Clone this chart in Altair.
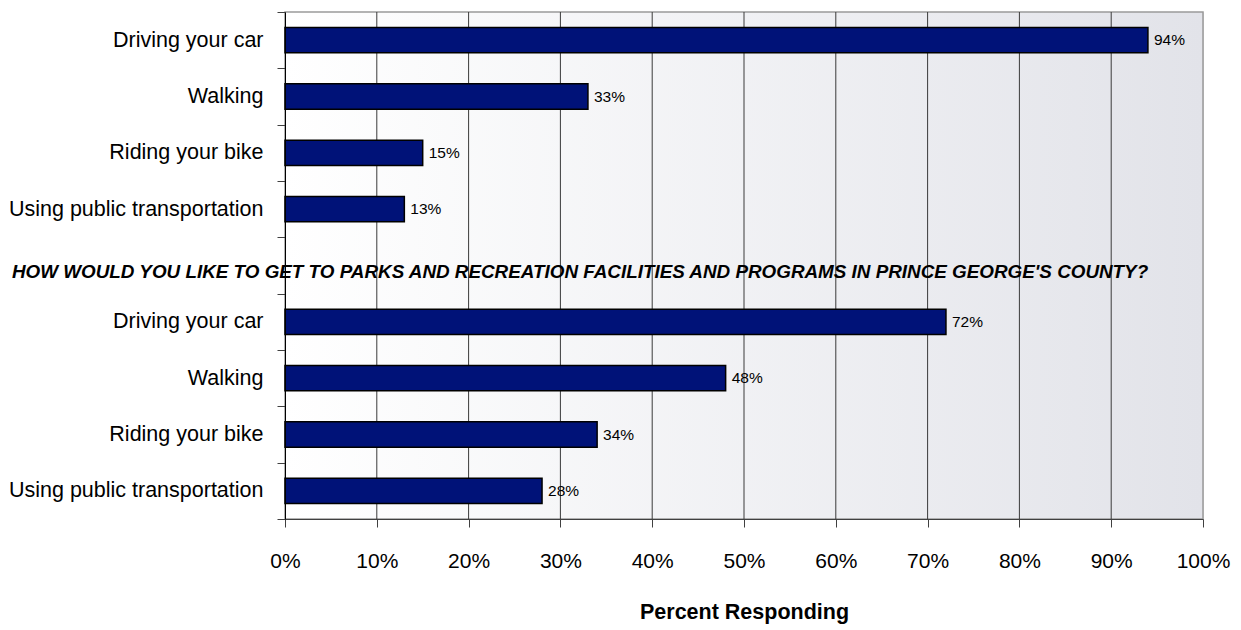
import altair as alt
import pandas as pd

# ---- data ----
categories = ["Driving your car", "Walking", "Riding your bike", "Using public transportation"]
current_pct = [94, 33, 15, 13]
desired_pct = [72, 48, 34, 28]
question = ("HOW WOULD YOU LIKE TO GET TO PARKS AND RECREATION FACILITIES "
            "AND PROGRAMS IN PRINCE GEORGE'S COUNTY?")
x_ticks = [0, 10, 20, 30, 40, 50, 60, 70, 80, 90, 100]
axis_title = "Percent Responding"

FONT = "Liberation Sans"
W, H = 918, 507

rows = []
order = []
for i, (c, v) in enumerate(zip(categories, current_pct)):
    k = f"{i}|{c}"
    rows.append({"key": k, "value": v, "label": f"{v}%"})
    order.append(k)
title_key = "4|"
order.append(title_key)
for i, (c, v) in enumerate(zip(categories, desired_pct)):
    k = f"{5 + i}|{c}"
    rows.append({"key": k, "value": v, "label": f"{v}%"})
    order.append(k)
df = pd.DataFrame(rows)

xscale = alt.Scale(domain=[0, 100], nice=False, zero=True)
yscale = alt.Scale(domain=order, paddingInner=0, paddingOuter=0)

x_axis = alt.Axis(values=x_ticks, labelExpr="datum.value + '%'", grid=False,
                  tickSize=8, tickColor="#404040", domainColor="#404040",
                  labelFont=FONT, labelFontSize=21, labelColor="black",
                  labelPadding=23, title=axis_title, titleFont=FONT,
                  titleFontSize=21.5, titleFontWeight="bold", titleColor="black",
                  titlePadding=30, zindex=1, labelFlush=False)
y_axis = alt.Axis(labelExpr="split(datum.label, '|')[1]", tickBand="extent",
                  tickSize=8, tickColor="#404040", domainColor="black",
                  labelFont=FONT, labelFontSize=21.5, labelColor="black",
                  labelPadding=14, labelLimit=0, title=None, zindex=1, grid=False)

bg = alt.Chart(alt.Data(values=[{"a": 1}])).mark_rect(
    color=alt.LinearGradient(
        gradient="linear",
        stops=[alt.GradientStop(color="#ffffff", offset=0),
               alt.GradientStop(color="#e2e3e9", offset=1)],
        x1=0, x2=1, y1=0, y2=0),
    stroke="#9a9a9a", strokeWidth=1.5,
).encode(
    x=alt.datum(0, scale=xscale, axis=x_axis),
    x2=alt.datum(100),
    y=alt.value(0),
    y2=alt.value(H),
)

grid = alt.Chart(pd.DataFrame({"t": x_ticks[1:-1]})).mark_rule(
    color="#3a3a3a", strokeWidth=1
).encode(x=alt.X("t:Q", scale=xscale, axis=x_axis))

bars = alt.Chart(df).mark_bar(
    color="#001278", stroke="black", strokeWidth=1.5, height={"band": 0.45}
).encode(
    x=alt.X("value:Q", scale=xscale, axis=x_axis),
    y=alt.Y("key:N", scale=yscale, axis=y_axis, sort=order),
)

labels = alt.Chart(df).mark_text(
    align="left", baseline="middle", dx=6, font=FONT, fontSize=15.5, color="black"
).encode(
    x=alt.X("value:Q", scale=xscale),
    y=alt.Y("key:N", scale=yscale, sort=order),
    text="label:N",
)

qtext = alt.Chart(alt.Data(values=[{"q": question}])).mark_text(
    align="left", baseline="middle", font=FONT, fontSize=18.85,
    fontWeight="bold", fontStyle="italic", color="black", dy=6,
).encode(
    x=alt.value(-273),
    y=alt.datum(title_key, scale=yscale),
    text="q:N",
)

chart = alt.layer(bg, grid, bars, labels, qtext).properties(
    width=W, height=H,
    autosize=alt.AutoSizeParams(type="none"),
    padding={"left": 277, "top": 4, "right": 30, "bottom": 110},
).configure_view(stroke=None).configure(background="white")

chart.save("out.html", embed_options={"renderer": "svg", "actions": False})
